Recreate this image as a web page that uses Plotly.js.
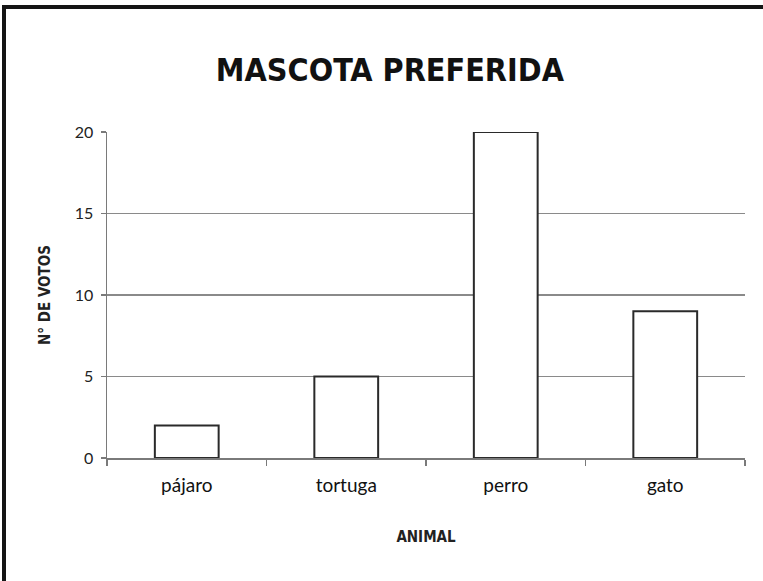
<!DOCTYPE html>
<html>
<head>
<meta charset="utf-8">
<script src="https://cdn.plot.ly/plotly-3.0.1.min.js"></script>
<style>
  body { margin: 0; background: #fff; }
  #wrap { position: relative; width: 763px; height: 581px; overflow: hidden; }
  #myDiv { position: absolute; left: 0; top: 0; }
  #frameTop { position: absolute; left: 2px; top: 5px; width: 761px; height: 4px; background: #151515; }
  #frameLeft { position: absolute; left: 2px; top: 5px; width: 4px; height: 576px; background: #151515; }
</style>
</head>
<body>
<div id="wrap">
  <div id="myDiv"></div>
  <div id="frameTop"></div>
  <div id="frameLeft"></div>
</div>
<script>
var animales = ['pájaro', 'tortuga', 'perro', 'gato'];
var votos = [2, 5, 20, 9];
var yTicks = [0, 5, 10, 15, 20];

var bars = {
  x: animales,
  y: votos,
  type: 'bar',
  marker: { color: '#ffffff', line: { color: '#2a2a2a', width: 2 } },
  hoverinfo: 'x+y'
};

var layout = {
  width: 763,
  height: 581,
  margin: { l: 107, r: 18, t: 132, b: 123 },
  paper_bgcolor: '#ffffff',
  plot_bgcolor: '#ffffff',
  showlegend: false,
  bargap: 0.6,
  title: {
    text: '<b>MASCOTA PREFERIDA</b>',
    font: { family: 'DejaVu Sans Condensed, Liberation Sans Narrow, sans-serif', size: 32, color: '#111111' },
    x: 0.511, xanchor: 'center',
    y: 0.88, yanchor: 'middle', yref: 'container'
  },
  xaxis: {
    type: 'category',
    showline: true, linecolor: '#7a7a7a', linewidth: 1.5,
    ticks: 'outside', tickson: 'boundaries', ticklen: 6, tickcolor: '#7a7a7a', tickwidth: 1.5,
    tickfont: { family: 'Lato, sans-serif', size: 19, color: '#111111' },
    ticklabelstandoff: 10,
    showgrid: false,
    title: {
      text: '<b>ANIMAL</b>',
      font: { family: 'DejaVu Sans Condensed, sans-serif', size: 15, color: '#222222' },
      standoff: 36
    }
  },
  yaxis: {
    range: [0, 20],
    tickvals: yTicks,
    showline: true, linecolor: '#7a7a7a', linewidth: 1.5,
    ticks: 'outside', ticklen: 5, tickcolor: '#7a7a7a', tickwidth: 1.5,
    tickfont: { family: 'Lato, sans-serif', size: 16, color: '#222222' },
    ticklabelstandoff: 4,
    showgrid: true, gridcolor: '#8a8a8a', gridwidth: 1.5,
    zeroline: false,
    title: {
      text: '<b>N° DE VOTOS</b>',
      font: { family: 'DejaVu Sans Condensed, sans-serif', size: 15, color: '#222222' },
      standoff: 20
    }
  }
};

Plotly.newPlot('myDiv', [bars], layout, { displayModeBar: false, staticPlot: true });
</script>
</body>
</html>
